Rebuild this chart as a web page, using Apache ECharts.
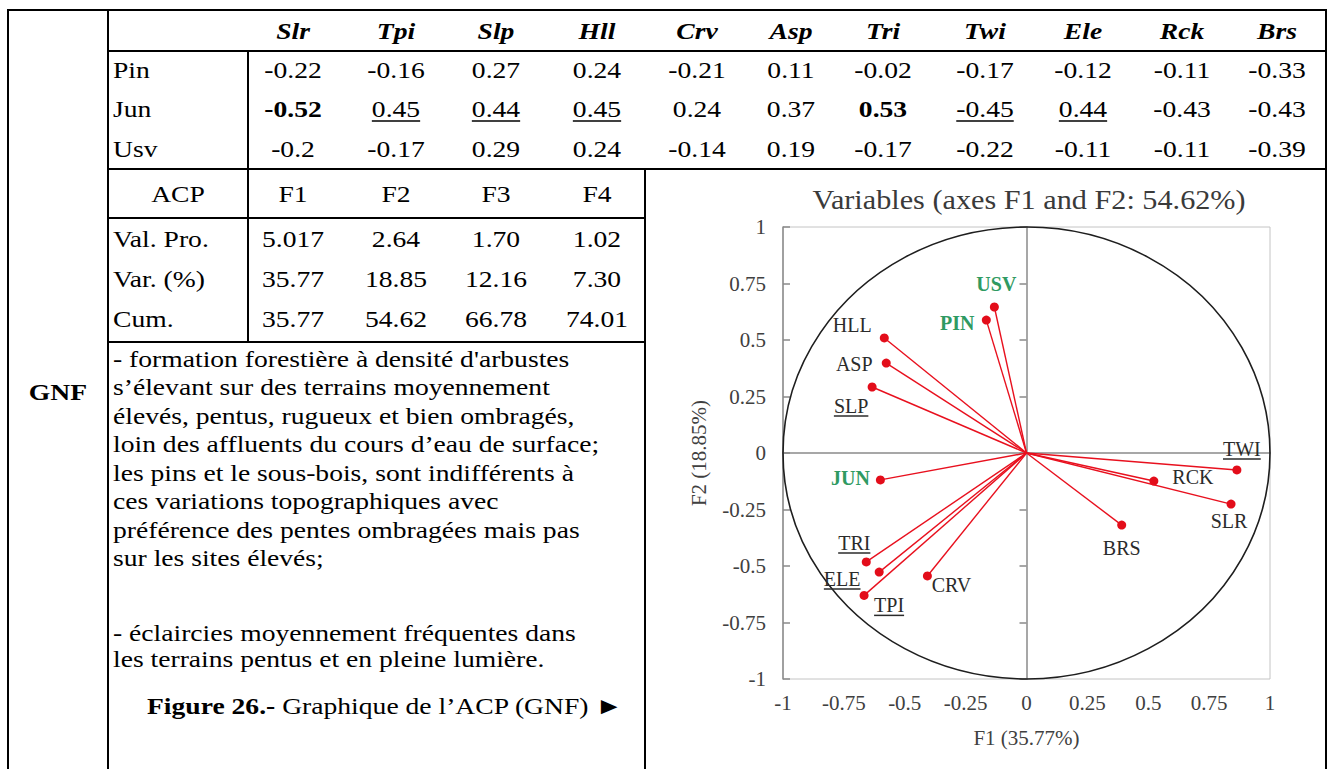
<!DOCTYPE html>
<html>
<head>
<meta charset="utf-8">
<title>Graphique de l'ACP (GNF)</title>
<script src="https://cdn.jsdelivr.net/npm/echarts@6/dist/echarts.min.js"></script>
<style>
  html, body { margin: 0; padding: 0; background: #fff; }
  #chart1 { width: 1328px; height: 769px; }
</style>
</head>
<body>
<div id="chart1"></div>
<script>
// --- loadings table ---
var variables = ['Slr', 'Tpi', 'Slp', 'Hll', 'Crv', 'Asp', 'Tri', 'Twi', 'Ele', 'Rck', 'Brs'];
var pinValues = [-0.22, -0.16, 0.27, 0.24, -0.21, 0.11, -0.02, -0.17, -0.12, -0.11, -0.33];
var junValues = [-0.52, 0.45, 0.44, 0.45, 0.24, 0.37, 0.53, -0.45, 0.44, -0.43, -0.43];
var usvValues = [-0.2, -0.17, 0.29, 0.24, -0.14, 0.19, -0.17, -0.22, -0.11, -0.11, -0.39];
var junMarks = ['b', 'u', 'u', 'u', '', '', 'b', 'u', 'u', '', ''];

// --- eigenvalues table ---
var factors = ['F1', 'F2', 'F3', 'F4'];
var eigenValues = ['5.017', '2.64', '1.70', '1.02'];
var varPercent = ['35.77', '18.85', '12.16', '7.30'];
var cumPercent = ['35.77', '54.62', '66.78', '74.01'];

// --- correlation circle (F1 x F2) ---
var pcaNames = ['USV', 'PIN', 'HLL', 'ASP', 'SLP', 'JUN', 'TWI', 'RCK', 'SLR', 'BRS', 'CRV', 'TRI', 'ELE', 'TPI'];
var f1Coords = [-0.132, -0.165, -0.584, -0.576, -0.634, -0.60, 0.864, 0.523, 0.840, 0.391, -0.407, -0.658, -0.605, -0.667];
var f2Coords = [0.646, 0.588, 0.509, 0.398, 0.292, -0.119, -0.075, -0.124, -0.226, -0.319, -0.544, -0.482, -0.527, -0.630];
var speciesNames = ['USV', 'PIN', 'JUN'];
var underlinedNames = ['SLP', 'TWI', 'TRI', 'ELE', 'TPI'];

var paragraph = [
  '- formation forestière à densité d\'arbustes',
  's’élevant sur des terrains moyennement',
  'élevés, pentus, rugueux et bien ombragés,',
  'loin des affluents du cours d’eau de surface;',
  'les pins et le sous-bois, sont indifférents à',
  'ces variations topographiques avec',
  'préférence des pentes ombragées mais pas',
  'sur les sites élevés;'
];
var paragraph2 = [
  '- éclaircies moyennement fréquentes dans',
  'les terrains pentus et en pleine lumière.'
];

// label placement around each point (pixels)
var labelOffsets = {
  USV: [2, -23], PIN: [-29, 3], HLL: [-32, -13], ASP: [-32, 1], SLP: [-21, 19],
  JUN: [-30, -2], TWI: [5, -21], RCK: [39, -4], SLR: [-2, 17], BRS: [0, 23],
  CRV: [24, 9], TRI: [-12, -19], ELE: [-37, 7], TPI: [25, 10]
};

var SERIF = '"Liberation Serif", "Times New Roman", serif';
var FS = 24;
var SX = 1.15;
var colX = [293, 396, 496, 597, 697, 791, 883, 985, 1083, 1182, 1277];
var rowY = { head: 31, pin: 70, jun: 109, usv: 149, acp: 194, val: 239, vr: 279, cum: 319 };

var measureCtx = document.createElement('canvas').getContext('2d');
function textWidth(str, weight, size) {
  measureCtx.font = (weight || 'normal') + ' ' + size + 'px ' + SERIF;
  return measureCtx.measureText(str).width;
}

function txt(str, x, y, align, weight, italic) {
  return {
    type: 'text', x: x, y: y, scaleX: SX,
    style: {
      text: str, x: 0, y: 0, align: align || 'center', verticalAlign: 'middle',
      fontSize: FS, fontFamily: SERIF, fontWeight: weight || 'normal',
      fontStyle: italic ? 'italic' : 'normal', fill: '#000'
    }
  };
}
function hline(x1, y1, x2, y2, w) {
  return { type: 'line', shape: { x1: x1, y1: y1, x2: x2, y2: y2 }, style: { stroke: '#000', lineWidth: w || 2 } };
}

var graphics = [];
// table rules
[
  [7, 10, 1327, 10], [8, 9, 8, 769], [1326, 9, 1326, 769], [108, 10, 108, 769],
  [108, 51, 1327, 51], [248, 51, 248, 342], [108, 169, 1327, 169],
  [108, 218, 645, 218], [108, 342, 645, 342], [645, 169, 645, 769]
].forEach(function (l) { graphics.push(hline(l[0], l[1], l[2], l[3])); });

variables.forEach(function (v, i) {
  graphics.push(txt(v, colX[i], rowY.head, 'center', 'bold', true));
  graphics.push(txt(String(pinValues[i]), colX[i], rowY.pin));
  var bold = junMarks[i] === 'b';
  var s = String(junValues[i]);
  graphics.push(txt(s, colX[i], rowY.jun, 'center', bold ? 'bold' : 'normal'));
  if (junMarks[i] === 'u') {
    var w = textWidth(s, 'normal', FS) * SX;
    graphics.push(hline(colX[i] - w / 2, rowY.jun + 12, colX[i] + w / 2, rowY.jun + 12, 1.5));
  }
  graphics.push(txt(String(usvValues[i]), colX[i], rowY.usv));
});
graphics.push(txt('Pin', 113, rowY.pin, 'left'));
graphics.push(txt('Jun', 113, rowY.jun, 'left'));
graphics.push(txt('Usv', 113, rowY.usv, 'left'));

graphics.push(txt('ACP', 178, rowY.acp));
graphics.push(txt('Val. Pro.', 113, rowY.val, 'left'));
graphics.push(txt('Var. (%)', 113, rowY.vr, 'left'));
graphics.push(txt('Cum.', 113, rowY.cum, 'left'));
factors.forEach(function (f, i) {
  graphics.push(txt(f, colX[i], rowY.acp));
  graphics.push(txt(eigenValues[i], colX[i], rowY.val));
  graphics.push(txt(varPercent[i], colX[i], rowY.vr));
  graphics.push(txt(cumPercent[i], colX[i], rowY.cum));
});

graphics.push(txt('GNF', 58, 392, 'center', 'bold'));
paragraph.forEach(function (line, i) {
  graphics.push(txt(line, 113, 359 + i * 28.5, 'left'));
});
paragraph2.forEach(function (line, i) {
  graphics.push(txt(line, 113, 633 + i * 26, 'left'));
});
graphics.push({
  type: 'text', x: 147, y: 706, scaleX: SX,
  style: {
    text: '{b|Figure 26.-} Graphique de l’ACP (GNF) ►', x: 0, y: 0,
    align: 'left', verticalAlign: 'middle', fontSize: FS, fontFamily: SERIF, fill: '#000',
    rich: { b: { fontSize: FS, fontFamily: SERIF, fontWeight: 'bold', fill: '#000' } }
  }
});

// chart title
graphics.push({
  type: 'text', x: 1029, y: 200, scaleX: 1.12,
  style: {
    text: 'Variables (axes F1 and F2: 54.62%)', x: 0, y: 0, align: 'center', verticalAlign: 'middle',
    fontSize: 27, fontFamily: SERIF, fill: '#3a3a3a'
  }
});

var chartDom = document.getElementById('chart1');
var myChart = echarts.init(chartDom, null, { renderer: 'svg' });

var axisText = { fontSize: 21, fontFamily: SERIF, color: '#404040' };
var zeroLine = { show: true, onZero: true, lineStyle: { color: '#8a8a8a', width: 1.5 } };

var option = {
  backgroundColor: '#fff',
  animation: false,
  grid: { left: 783, top: 227, width: 487, height: 452, show: true, borderColor: '#c4c4c4', borderWidth: 1 },
  xAxis: [
    {
      type: 'value', min: -1, max: 1, interval: 0.25, position: 'bottom',
      axisLine: { show: false }, axisTick: { show: false }, splitLine: { show: false },
      axisLabel: Object.assign({ margin: 13 }, axisText),
      name: 'F1 (35.77%)', nameLocation: 'middle', nameGap: 48, nameTextStyle: axisText
    },
    {
      type: 'value', min: -1, max: 1, interval: 0.25, position: 'bottom',
      axisLine: zeroLine, axisTick: { show: false }, axisLabel: { show: false }, splitLine: { show: false }
    }
  ],
  yAxis: [
    {
      type: 'value', min: -1, max: 1, interval: 0.25, position: 'left',
      axisLine: { show: false }, axisTick: { show: false }, splitLine: { show: false },
      axisLabel: Object.assign({ margin: 17 }, axisText),
      name: 'F2 (18.85%)', nameLocation: 'middle', nameGap: 74, nameRotate: 90, nameTextStyle: axisText
    },
    {
      type: 'value', min: -1, max: 1, interval: 0.25, position: 'left',
      axisLine: zeroLine, axisLabel: { show: false }, splitLine: { show: false },
      axisTick: { show: true, length: 7, lineStyle: { color: '#8a8a8a', width: 1.5 } }
    },
    {
      type: 'value', min: -1, max: 1, interval: 0.25, position: 'left',
      axisLine: zeroLine, axisLabel: { show: false }, splitLine: { show: false },
      axisTick: { show: true, inside: true, length: 7, lineStyle: { color: '#8a8a8a', width: 1.5 } }
    }
  ],
  graphic: graphics,
  series: [
    {
      // unit correlation circle
      type: 'custom', coordinateSystem: 'cartesian2d', silent: true,
      data: [[0, 0]],
      renderItem: function (params, api) {
        var o = api.coord([0, 0]);
        var s = api.size([1, 1]);
        return {
          type: 'circle', x: o[0], y: o[1], scaleY: s[1] / s[0],
          shape: { cx: 0, cy: 0, r: s[0] },
          style: { fill: 'none', stroke: '#1e1e1e', lineWidth: 1.6 }
        };
      }
    },
    {
      type: 'custom', coordinateSystem: 'cartesian2d',
      encode: { x: 0, y: 1 },
      data: pcaNames.map(function (n, i) { return [f1Coords[i], f2Coords[i], i]; }),
      renderItem: function (params, api) {
        var name = pcaNames[api.value(2)];
        var o = api.coord([0, 0]);
        var p = api.coord([api.value(0), api.value(1)]);
        var off = labelOffsets[name];
        var isSpecies = speciesNames.indexOf(name) >= 0;
        var weight = isSpecies ? 'bold' : 'normal';
        var lx = p[0] + off[0], ly = p[1] + off[1];
        var children = [
          { type: 'line', shape: { x1: o[0], y1: o[1], x2: p[0], y2: p[1] }, style: { stroke: '#e8101e', lineWidth: 1.4 } },
          { type: 'circle', shape: { cx: p[0], cy: p[1], r: 4.5 }, style: { fill: '#e30d1a' } },
          {
            type: 'text', x: lx, y: ly,
            style: {
              text: name, x: 0, y: 0, align: 'center', verticalAlign: 'middle',
              fontSize: 20, fontFamily: SERIF, fontWeight: weight,
              fill: isSpecies ? '#2f9a62' : '#2b2b2b'
            }
          }
        ];
        if (underlinedNames.indexOf(name) >= 0) {
          var w = textWidth(name, weight, 20);
          children.push({ type: 'line', shape: { x1: lx - w / 2, y1: ly + 10, x2: lx + w / 2, y2: ly + 10 }, style: { stroke: '#2b2b2b', lineWidth: 1.5 } });
        }
        return { type: 'group', children: children };
      }
    }
  ]
};

option && myChart.setOption(option);
window.onresize = function () {
  myChart.resize();
};
</script>
</body>
</html>
